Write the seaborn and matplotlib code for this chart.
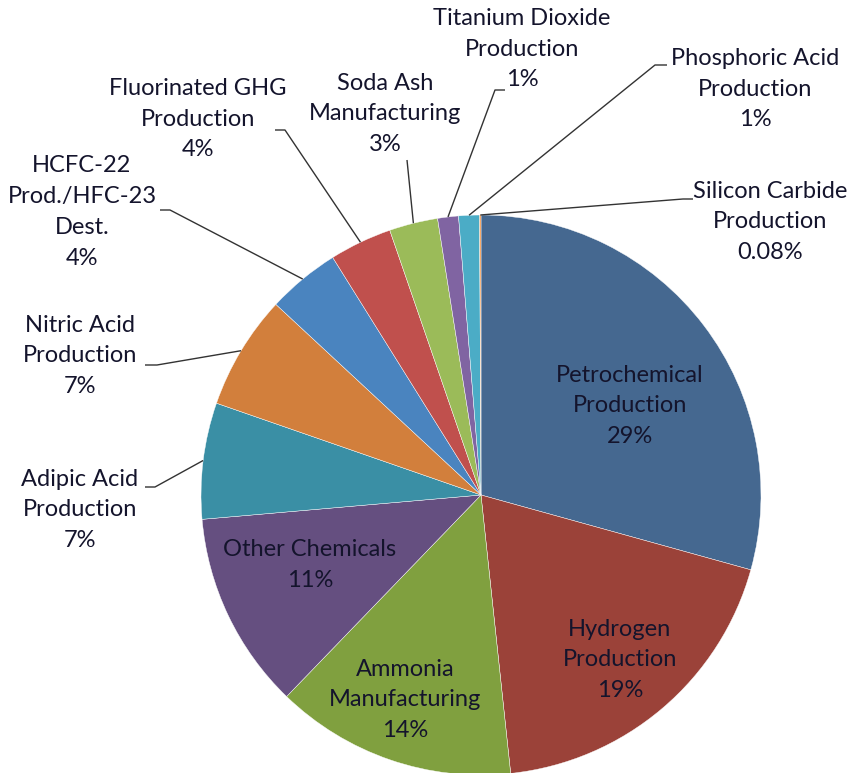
import numpy as np
import matplotlib
matplotlib.use("Agg")
import matplotlib.pyplot as plt
import seaborn as sns

sns.set_theme(style="white")
plt.rcParams['font.family'] = ['Lato', 'DejaVu Sans']

categories = ["Petrochemical\nProduction", "Hydrogen\nProduction", "Ammonia\nManufacturing",
              "Other Chemicals", "Adipic Acid\nProduction", "Nitric Acid\nProduction",
              "HCFC-22\nProd./HFC-23\nDest.", "Fluorinated GHG\nProduction", "Soda Ash\nManufacturing",
              "Titanium Dioxide\nProduction", "Phosphoric Acid\nProduction", "Silicon Carbide\nProduction"]
values = [29.3, 19.0, 13.9, 11.4, 6.7, 6.6, 4.2, 3.6, 2.8, 1.2, 1.2, 0.08]
pct_labels = ["29%", "19%", "14%", "11%", "7%", "7%", "4%", "4%", "3%", "1%", "1%", "0.08%"]
colors = ["#456890", "#9B4239", "#80A03F", "#654F80", "#3A8FA5", "#D27F3C",
          "#4A84BF", "#C0504D", "#9BBB59", "#8064A2", "#4BACC6", "#F79646"]

W, H = 848, 773
fig = plt.figure(figsize=(W / 100, H / 100), dpi=100)
ax = fig.add_axes([0, 0, 1, 1])

cx, cy, R = 481, H - 495, 280
wedges, _ = ax.pie(values, colors=colors, startangle=90, counterclock=False,
                   center=(cx, cy), radius=R, frame=True,
                   wedgeprops=dict(edgecolor='white', linewidth=0.3))
ax.set_xlim(0, W)
ax.set_ylim(0, H)
ax.set_aspect('equal')
ax.axis('off')

txt_color = '#14142c'
fs = 17
ls = 1.58

# inside labels (pixel positions of centers)
inside = {0: (630, 406), 1: (620, 660), 2: (405, 700), 3: (310, 565)}
for i, (x, y) in inside.items():
    ax.text(x, H - y, categories[i] + "\n" + pct_labels[i], ha='center', va='center',
            fontsize=fs, color=txt_color, linespacing=ls)

# outside labels: label center, elbow point, end point (pixels)
outside = {
    4: ((80, 510), (155, 487), (145, 487)),
    5: ((80, 356), (157, 365), (145, 365)),
    6: ((82, 212), (170, 210), (160, 210)),
    7: ((198, 119), (285, 130), (275, 130)),
    8: ((385, 114), (407, 160), (407, 160)),
    9: ((522, 49), (495, 90), (505, 90)),
    10: ((755, 89), (655, 65), (667, 65)),
    11: ((770, 222), (683, 199), (693, 199)),
}
for i, ((lx, ly), (ex, ey), (fx, fy)) in outside.items():
    w = wedges[i]
    mid = np.deg2rad((w.theta1 + w.theta2) / 2)
    sx, sy = cx + R * np.cos(mid), cy + R * np.sin(mid)
    ax.plot([sx, ex, fx], [sy, H - ey, H - fy], color='#333333', lw=1.0,
            solid_capstyle='butt', zorder=3)
    ax.text(lx, H - ly, categories[i] + "\n" + pct_labels[i], ha='center', va='center',
            fontsize=fs, color=txt_color, linespacing=ls)

fig.savefig("out.png", dpi=100, facecolor='white')
